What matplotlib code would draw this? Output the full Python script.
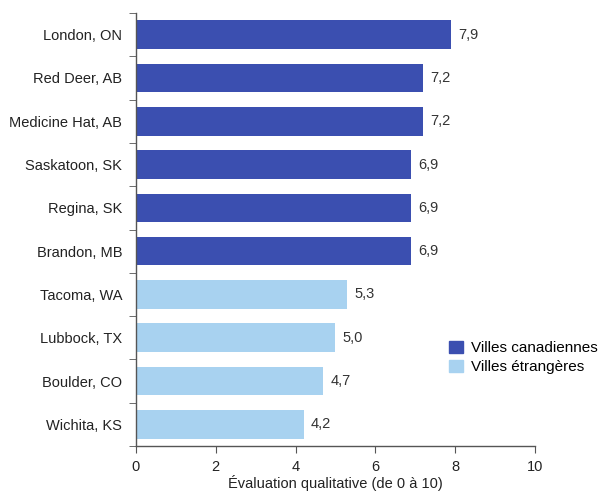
import numpy as np
import matplotlib.pyplot as plt
from matplotlib.patches import Patch

villes = ["London, ON", "Red Deer, AB", "Medicine Hat, AB", "Saskatoon, SK",
          "Regina, SK", "Brandon, MB", "Tacoma, WA", "Lubbock, TX",
          "Boulder, CO", "Wichita, KS"]
notes = [7.9, 7.2, 7.2, 6.9, 6.9, 6.9, 5.3, 5.0, 4.7, 4.2]
canadienne = [True, True, True, True, True, True, False, False, False, False]

bleu_fonce = "#3b4fb0"
bleu_clair = "#a8d2f0"

plt.rcParams['font.family'] = ['Liberation Sans', 'DejaVu Sans']
plt.rcParams['font.size'] = 10.5

fig = plt.figure(figsize=(6.03, 4.93), dpi=100)
ax = fig.add_axes([0.2255, 0.0953, 0.6615, 0.8783])

y = np.arange(len(villes))
couleurs = [bleu_fonce if c else bleu_clair for c in canadienne]
barres = ax.barh(y, notes, height=0.66, color=couleurs)

for yi, v in zip(y, notes):
    ax.text(v + 0.17, yi, "{0:.1f}".format(v).replace('.', ','),
            va='center', ha='left', color='#333333', fontsize=10.5)

ax.set_ylim(len(villes) - 0.5, -0.5)
ax.set_xlim(0, 10)
ax.set_xticks(range(0, 11, 2))
ax.set_yticks(y)
ax.set_yticklabels(villes)
ax.set_yticks(np.arange(-0.5, len(villes), 1), minor=True)
ax.tick_params(axis='y', which='major', length=0, pad=10, colors='#222222')
ax.tick_params(axis='y', which='minor', length=5, direction='out', color='#555555')
ax.tick_params(axis='x', length=5, direction='out', color='#555555', colors='#222222', pad=5)

for s in ['top', 'right']:
    ax.spines[s].set_visible(False)
for s in ['left', 'bottom']:
    ax.spines[s].set_color('#555555')
    ax.spines[s].set_linewidth(1.0)

ax.set_xlabel("Évaluation qualitative (de 0 à 10)", color='#222222', labelpad=1)

legende = [Patch(color=bleu_fonce, label="Villes canadiennes"),
           Patch(color=bleu_clair, label="Villes étrangères")]
fig.legend(handles=legende, loc='upper left', bbox_to_anchor=(0.722, 0.337),
           frameon=False, fontsize=11, handlelength=0.9, handleheight=0.9,
           handletextpad=0.5, labelspacing=0.3)

fig.savefig("out.png", dpi=100)
